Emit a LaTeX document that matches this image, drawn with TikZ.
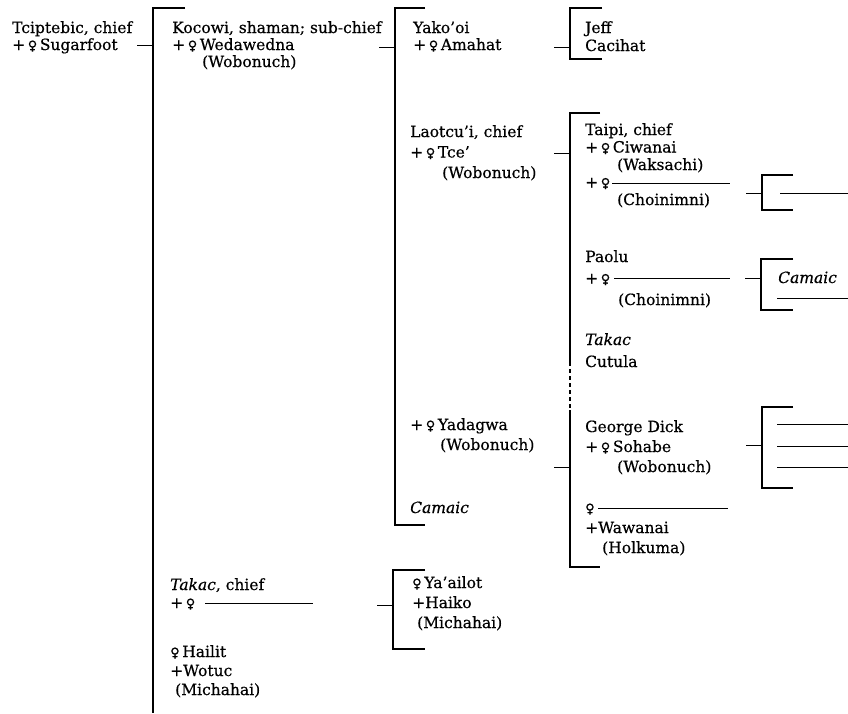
\documentclass[tikz,border=0pt]{standalone}
\usepackage{fontspec}
\setmainfont{DejaVu Serif}[FakeBold=0.5]
\newfontfamily\symfont{DejaVu Sans}[FakeBold=0.5]
\usetikzlibrary{positioning}

\newcommand{\fem}{{\symfont\fontsize{13}{13}\selectfont ♀}}

\begin{document}
\begin{tikzpicture}[x=1pt, y=-1pt,
    person/.style={anchor=base west, inner sep=0pt, align=left,
      font=\fontsize{15.5}{#1}\selectfont},
    person/.default=20,
    bar/.style={line width=1.2pt},
    blank/.style={line width=0.8pt},
    tie/.style={line width=0.9pt}]
  \useasboundingbox (0,0) rectangle (848,713);

  % generation 1 (base = last line)
  \node[person=17] (tcip) at (12,50) {Tciptebic, chief\\ +\,\fem\,Sugarfoot};

  % generation 2
  \node[person=17] (kocowi) at (172,67) {Kocowi, shaman; sub-chief\\ +\,\fem\,Wedawedna\\ \hspace*{30pt}(Wobonuch)};
  \node[person=18] (takac2) at (170,608) {\textit{Takac}, chief\\ +\,\fem};
  \node[person=19] (hailit) at (170,695) {\fem\,Hailit\\ +Wotuc\\ \hspace*{5pt}(Michahai)};

  % generation 3
  \node[person=17] (yakooi) at (413,50) {Yako’oi\\ +\,\fem\,Amahat};
  \node[person=20.5] (laotcui) at (410,178) {Laotcu’i, chief\\ +\,\fem\,Tce’\\ \hspace*{32pt}(Wobonuch)};
  \node[person] (yadagwa) at (410,450) {+\,\fem\,Yadagwa\\ \hspace*{30pt}(Wobonuch)};
  \node[person] (camaic3) at (410,513) {\textit{Camaic}};
  \node[person] (yaailot) at (412,628) {\fem\,Ya’ailot\\ +Haiko\\ \hspace*{5pt}(Michahai)};

  % generation 4
  \node[person=18] (jeff) at (585,51) {Jeff\\ Cacihat};
  \node[person=17.5] (taipi) at (585,205) {Taipi, chief\\ +\,\fem\,Ciwanai\\ \hspace*{32pt}(Waksachi)\\ +\,\fem\\ \hspace*{32pt}(Choinimni)};
  \node[person=21.5] (paolu) at (585,305) {Paolu\\ +\,\fem\\ \hspace*{33pt}(Choinimni)};
  \node[person=22] (takac4) at (585,367) {\textit{Takac}\\ Cutula};
  \node[person] (george) at (585,472) {George Dick\\ +\,\fem\,Sohabe\\ \hspace*{32pt}(Wobonuch)};
  \node[person] (wawanai) at (585,553) {\fem\\ +Wawanai\\ \hspace*{17pt}(Holkuma)};

  % generation 5
  \node[person] (camaic5) at (778,283) {\textit{Camaic}};

  % unnamed wives
  \draw[blank] (205,603) -- (313,603);
  \draw[blank] (612,183) -- (730,183);
  \draw[blank] (614,278) -- (730,278);
  \draw[blank] (598,508) -- (728,508);

  % brackets
  \draw[bar] (185,8) -- (153,8) -- (153,713);
  \draw[bar] (425,8) -- (395,8) -- (395,525) -- (425,525);
  \draw[bar] (425,570) -- (393,570) -- (393,649) -- (425,649);
  \draw[bar] (602,8) -- (570,8) -- (570,59) -- (602,59);
  \draw[bar] (600,113) -- (570,113) -- (570,362);
  \draw[bar, dash pattern=on 4pt off 3pt] (570,362) -- (570,410);
  \draw[bar] (570,410) -- (570,567) -- (600,567);
  \draw[bar] (793,175) -- (762,175) -- (762,210) -- (793,210);
  \draw[bar] (793,259) -- (761,259) -- (761,310) -- (793,310);
  \draw[bar] (793,407) -- (762,407) -- (762,488) -- (793,488);

  % lines of descent
  \coordinate (c-tcip) at (153,45);
  \coordinate (c-kocowi) at (395,47);
  \coordinate (c-takac) at (393,605);
  \coordinate (c-yakooi) at (570,47);
  \coordinate (c-laotcui) at (570,153);
  \coordinate (c-yadagwa) at (570,467);
  \coordinate (c-taipi) at (762,193);
  \coordinate (c-paolu) at (761,278);
  \coordinate (c-george) at (762,445);
  \foreach \c in {c-tcip, c-kocowi, c-takac, c-yakooi, c-laotcui, c-yadagwa, c-taipi, c-paolu, c-george}
    \draw[tie] (\c) -- ++(-16,0);

  % further issue
  \draw[blank] (780,193) -- (848,193);
  \draw[blank] (777,298) -- (848,298);
  \foreach \y in {424,446,467}
    \draw[blank] (777,\y) -- (848,\y);
\end{tikzpicture}
\end{document}
